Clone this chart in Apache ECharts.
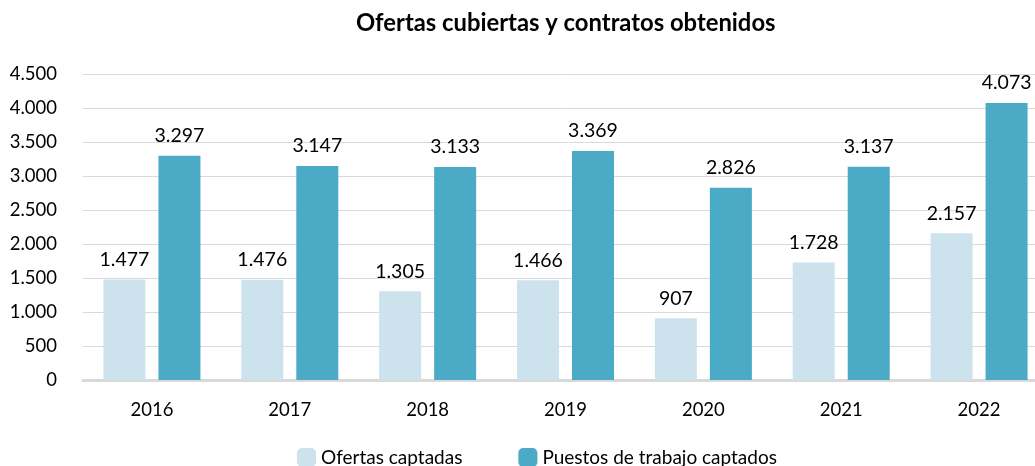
<!DOCTYPE html>
<html>
<head>
<meta charset="utf-8">
<script src="https://cdn.jsdelivr.net/npm/echarts@6/dist/echarts.min.js"></script>
<style>html,body{margin:0;padding:0;background:#fff;overflow:hidden;width:1035px;height:466px}#c{width:1048px;height:466px}</style>
</head>
<body>
<div id="c"></div>
<script>
const categories = ['2016','2017','2018','2019','2020','2021','2022'];
const ofertas = [1477, 1476, 1305, 1466, 907, 1728, 2157];
const puestos = [3297, 3147, 3133, 3369, 2826, 3137, 4073];
const seriesNames = ['Ofertas captadas', 'Puestos de trabajo captados'];
const titleText = 'Ofertas cubiertas y contratos obtenidos';

function fmt(v){ return String(v).replace(/\B(?=(\d{3})+(?!\d))/g, '.'); }

const chart = echarts.init(document.getElementById('c'));
const font = 'Lato';
chart.setOption({
  animation: false,
  textStyle: { fontFamily: font },
  title: {
    text: titleText, left: 351, top: 6,
    textStyle: { fontFamily: font, fontWeight: 'bold', fontSize: 23.8, color: '#000' }
  },
  legend: {
    bottom: -6, left: 292, itemWidth: 19, itemHeight: 19, itemGap: 56,
    textStyle: { fontFamily: font, fontSize: 19, color: '#000' },
    data: seriesNames
  },
  grid: { left: 83, right: 0, top: 74, bottom: 86, containLabel: false },
  xAxis: {
    type: 'category', data: categories,
    axisLine: { lineStyle: { color: '#d9d9d9', width: 3 } },
    axisTick: { show: false },
    axisLabel: { fontFamily: font, fontSize: 18.5, color: '#000', margin: 21 }
  },
  yAxis: {
    type: 'value', min: 0, max: 4500, interval: 500,
    axisLine: { show: false }, axisTick: { show: false },
    splitLine: { lineStyle: { color: '#d9d9d9', width: 1 } },
    axisLabel: { fontFamily: font, fontSize: 18.5, color: '#000', margin: 26, padding: [8, 0, 0, 0], formatter: fmt }
  },
  series: [
    { name: seriesNames[0], type: 'bar', data: ofertas, barWidth: 42, barGap: '31%',
      itemStyle: { color: '#cce3ee' },
      label: { show: true, position: 'top', distance: 10, fontFamily: font, fontSize: 19.5, color: '#000', formatter: p => fmt(p.value) } },
    { name: seriesNames[1], type: 'bar', data: puestos, barWidth: 42,
      itemStyle: { color: '#4baac6' },
      label: { show: true, position: 'top', distance: 10, fontFamily: font, fontSize: 19.5, color: '#000', formatter: p => fmt(p.value) } }
  ]
});
</script>
</body>
</html>
